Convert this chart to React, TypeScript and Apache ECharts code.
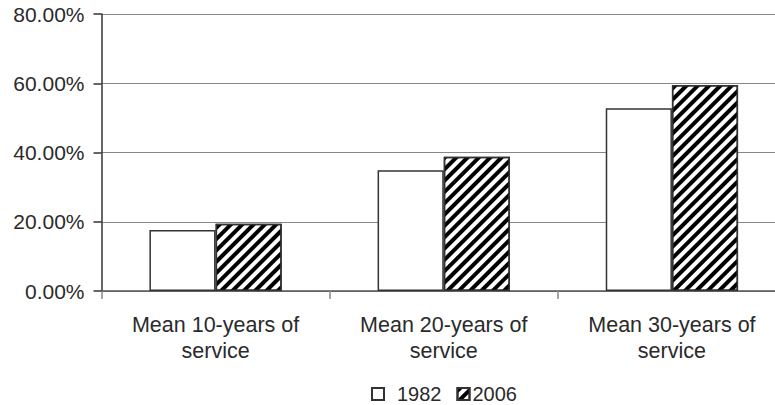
import React, { useEffect, useRef } from "react";
import * as echarts from "echarts";

const categories = ["Mean 10-years of\nservice", "Mean 20-years of\nservice", "Mean 30-years of\nservice"];
const series1982 = [17.6, 34.9, 52.8];
const series2006 = [19.4, 38.8, 59.5];
const yTicks = { min: 0, max: 80, interval: 20 };

export default function App() {
  const ref = useRef<HTMLDivElement>(null);
  useEffect(() => {
    if (!ref.current) return;
    const chart = echarts.init(ref.current, undefined, { renderer: "svg" });
    const font = "'Liberation Sans', Arial, Helvetica, sans-serif";
    const textColor = "#2a2a2a";
    chart.setOption({
      animation: false,
      backgroundColor: "#ffffff",
      grid: { left: 101.5, right: -11, top: 14, bottom: 114, outerBoundsMode: "none", containLabel: false },
      legend: {
        left: 366,
        top: 379,
        itemWidth: 12,
        itemHeight: 12,
        itemGap: 15,
        icon: "rect",
        textStyle: { fontFamily: font, fontSize: 20, color: textColor },
        data: [
          { name: "1982", icon: "rect", textStyle: { padding: [0, 0, 0, 8] } },
          { name: "2006", icon: "rect", textStyle: { padding: [0, 0, 0, -2] } },
        ],
      },
      xAxis: {
        type: "category",
        data: categories,
        axisLine: { lineStyle: { color: "#555", width: 1.5 } },
        axisTick: { show: true, length: 8, lineStyle: { color: "#888", width: 1.5 } },
        axisLabel: {
          margin: 21,
          fontFamily: font,
          fontSize: 21.5,
          lineHeight: 26,
          color: textColor,
        },
      },
      yAxis: {
        type: "value",
        min: yTicks.min,
        max: yTicks.max,
        interval: yTicks.interval,
        axisLine: { show: true, lineStyle: { color: "#333", width: 1.5 } },
        axisTick: { show: true, length: 8, lineStyle: { color: "#333", width: 1.5 } },
        splitLine: { show: true, lineStyle: { color: "#888", width: 1.2 } },
        axisLabel: {
          margin: 17,
          fontFamily: font,
          fontSize: 21,
          color: textColor,
          formatter: (v: number) => v.toFixed(2) + "%",
        },
      },
      series: [
        {
          name: "1982",
          type: "bar",
          data: series1982,
          barGap: "0%",
          barCategoryGap: "42%",
          itemStyle: { color: "#ffffff", borderColor: "#333", borderWidth: 1.5 },
        },
        {
          name: "2006",
          type: "bar",
          data: series2006,
          barGap: "0%",
          barCategoryGap: "42%",
          itemStyle: {
            color: "#ffffff",
            borderColor: "#333",
            borderWidth: 1.5,
            decal: {
              symbol: "rect",
              dashArrayX: [1, 0],
              dashArrayY: [3.2, 3.8],
              rotation: -Math.PI / 4,
              color: "#000000",
              backgroundColor: "#ffffff",
            },
          },
        },
      ],
    });
    return () => chart.dispose();
  }, []);
  return <div ref={ref} style={{ position: "fixed", left: 0, top: 0, width: 775, height: 405 }} />;
}
